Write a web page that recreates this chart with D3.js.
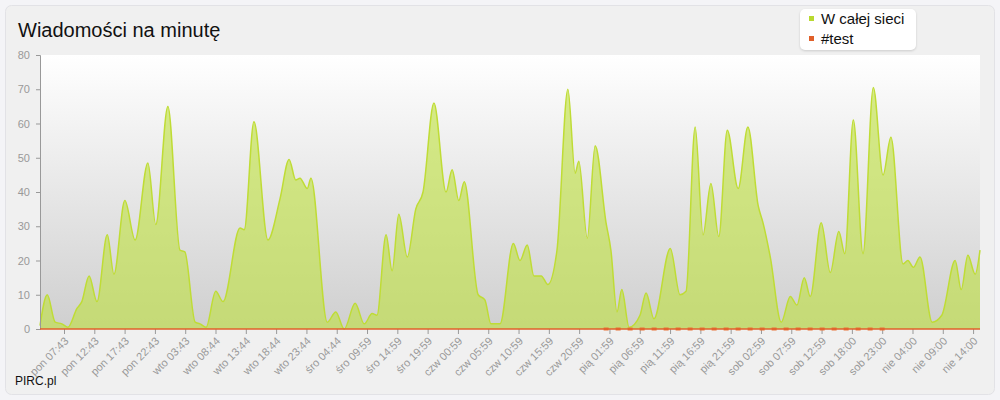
<!DOCTYPE html>
<html>
<head>
<meta charset="utf-8">
<script src="https://cdn.jsdelivr.net/npm/d3@7"></script>
<style>
body { margin: 0; background: #f4f4f7; font-family: "Liberation Sans", Arial, sans-serif; }
</style>
</head>
<body>
<svg id="chart" width="1000" height="400"></svg>
<script>
// Wiadomości na minutę - area chart

// hours since start of range (peaks and valleys)
var hours = [0,1.2,2.5,3.6,4.6,6.1,6.9,8.1,9.4,11.1,12.2,14.0,15.7,17.8,19.1,21.1,23.1,23.9,25.6,26.4,27.4,29.0,30.2,33.0,33.7,35.3,37.6,39.6,41.1,42.2,42.9,44.1,44.7,47.4,48.8,50.2,52.0,53.5,54.8,55.6,57.1,58.1,59.2,60.6,62.0,63.2,65.0,67.0,68.0,69.1,70.0,72.3,73.4,74.4,75.9,78.1,79.2,80.4,81.5,82.7,83.8,85.3,87.1,88.3,88.9,90.3,91.6,93.4,94.2,95.2,96.0,97.2,99.0,100.0,101.3,104.0,105.6,106.6,108.1,109.4,110.7,112.0,113.4,115.2,116.8,118.5,119.3,120.5,122.3,123.8,124.9,126.1,127.1,128.9,130.4,131.8,132.8,134.2,135.8,137.5,139.1,140.4,142.4,143.2,144.1,145.2,147.2,148.8,151.0,152.0,153.1,154.3,155.1];
var allValues = [1,10,2,1.5,0.5,6,8,15.5,8,27.5,16,37.5,26,48.5,30.5,65,23,22.5,2,1.5,0.5,11,8,29.5,29,60.5,26,38,49.5,43.5,44,41,44,2,5,0,7.5,1.5,4.5,4,27.5,17,33.5,21,35,40,66,40,46.5,37.5,43,10,8.5,1.5,1.5,25,20,24.5,15.5,15.5,13,23,70,45.5,49,26.5,53.5,31,23,5,11.5,0.5,4,10.5,3,23.5,10,11,59,27.5,42.5,27,58,41,59,36,31,21,2,9.5,7,15,9.5,31,16.5,28.5,22,61,22,70.5,45,56,19,20,18,21,2,4,20,11.5,21.5,16,23];
// #test channel: zero the whole time, a few dashes between these hours
var testHours = [0, 155.1];
var testValues = [0, 0];
var testDashFrom = 93, testDashTo = 140.5;

var tickLabels = ["pon 07:43","pon 12:43","pon 17:43","pon 22:43","wto 03:43","wto 08:44","wto 13:44","wto 18:44","wto 23:44","śro 04:44","śro 09:59","śro 14:59","śro 19:59","czw 00:59","czw 05:59","czw 10:59","czw 15:59","czw 20:59","pią 01:59","pią 06:59","pią 11:59","pią 16:59","pią 21:59","sob 02:59","sob 07:59","sob 12:59","sob 18:00","sob 23:00","nie 04:00","nie 09:00","nie 14:00"];
var firstTick = 3.96, tickStep = 5;
var yTicks = [0,10,20,30,40,50,60,70,80];

(function(){
"use strict";

var svg = d3.select("#chart");
var plotLeft = 40, plotRight = 980, plotTop = 55, plotBottom = 329;

// panel
svg.append("rect").attr("x", 5.5).attr("y", 5.5).attr("width", 989).attr("height", 389)
    .attr("rx", 6).attr("fill", "#f0f0f0").attr("stroke", "#e2e2e6");

var defs = svg.append("defs");
var grad = defs.append("linearGradient").attr("id", "bg").attr("x1", 0).attr("y1", 0).attr("x2", 0).attr("y2", 1);
grad.append("stop").attr("offset", "0%").attr("stop-color", "#ffffff");
grad.append("stop").attr("offset", "100%").attr("stop-color", "#cfcfcf");

svg.append("rect").attr("x", plotLeft).attr("y", plotTop).attr("width", plotRight - plotLeft).attr("height", plotBottom - plotTop)
    .attr("fill", "url(#bg)");

var x = d3.scaleLinear().domain([0, 155.1]).range([plotLeft, plotRight]);
var y = d3.scaleLinear().domain([0, 80]).range([plotBottom, plotTop]);

var pts = hours.map(function(h, i){ return [h, allValues[i]]; });

var area = d3.area().x(function(d){ return x(d[0]); }).y0(y(0)).y1(function(d){ return y(d[1]); })
    .curve(d3.curveMonotoneX);
var line = d3.line().x(function(d){ return x(d[0]); }).y(function(d){ return y(d[1]); })
    .curve(d3.curveMonotoneX);

svg.append("path").datum(pts).attr("d", area).attr("fill", "#bee13c").attr("fill-opacity", 0.6);
svg.append("path").datum(pts).attr("d", line).attr("fill", "none").attr("stroke", "#bfdc35").attr("stroke-width", 1.5);

// y axis
var yAxis = svg.append("g").attr("transform", "translate(" + plotLeft + ",0)")
    .call(d3.axisLeft(y).tickValues(yTicks).tickSize(4).tickPadding(6));
yAxis.select(".domain").attr("stroke", "#999");
yAxis.selectAll(".tick line").attr("stroke", "#999");
yAxis.selectAll("text").attr("fill", "#999").style("font-size", "11px").style("font-family", "Liberation Sans, Arial, sans-serif");

// x axis
var tickVals = tickLabels.map(function(t, i){ return firstTick + i * tickStep; });
var xAxis = svg.append("g").attr("transform", "translate(0," + plotBottom + ")")
    .call(d3.axisBottom(x).tickValues(tickVals).tickSize(5)
        .tickFormat(function(d, i){ return tickLabels[i]; }));
xAxis.select(".domain").remove();
xAxis.selectAll(".tick line").attr("stroke", "#999");
xAxis.selectAll("text").attr("fill", "#999").style("font-size", "11px").style("font-family", "Liberation Sans, Arial, sans-serif")
    .attr("text-anchor", "end").attr("y", 0).attr("dy", "0.35em").attr("transform", "translate(2,10) rotate(-45)");

// #test series
var testPts = testHours.map(function(h, i){ return [h, testValues[i]]; });
svg.append("path").datum([[testDashFrom, 0], [testDashTo, 0]]).attr("d", line)
    .attr("fill", "none").attr("stroke", "#e8743b").attr("stroke-width", 3).attr("stroke-dasharray", "5,7");
svg.append("path").datum(testPts).attr("d", line).attr("fill", "none").attr("stroke", "#e0602a").attr("stroke-width", 1.5);

// title
svg.append("text").attr("x", 18).attr("y", 37).text("Wiadomości na minutę")
    .style("font-size", "20px").attr("fill", "#111");
svg.append("text").attr("x", 15).attr("y", 385).text("PIRC.pl")
    .style("font-size", "12px").attr("fill", "#111");

// legend
var legend = svg.append("g").attr("transform", "translate(800,9)");
legend.append("rect").attr("width", 116).attr("height", 41).attr("rx", 5).attr("fill", "#fff")
    .style("filter", "drop-shadow(0 1px 1px rgba(0,0,0,0.15))");
var series = [{name: "W całej sieci", color: "#b8d930"}, {name: "#test", color: "#e0602a"}];
series.forEach(function(s, i){
    legend.append("rect").attr("x", 9).attr("y", 7 + i * 20).attr("width", 5).attr("height", 5).attr("fill", s.color);
    legend.append("text").attr("x", 21).attr("y", 15 + i * 20).text(s.name)
        .style("font-size", "15px").attr("fill", "#111");
});
})();
</script>
</body>
</html>
